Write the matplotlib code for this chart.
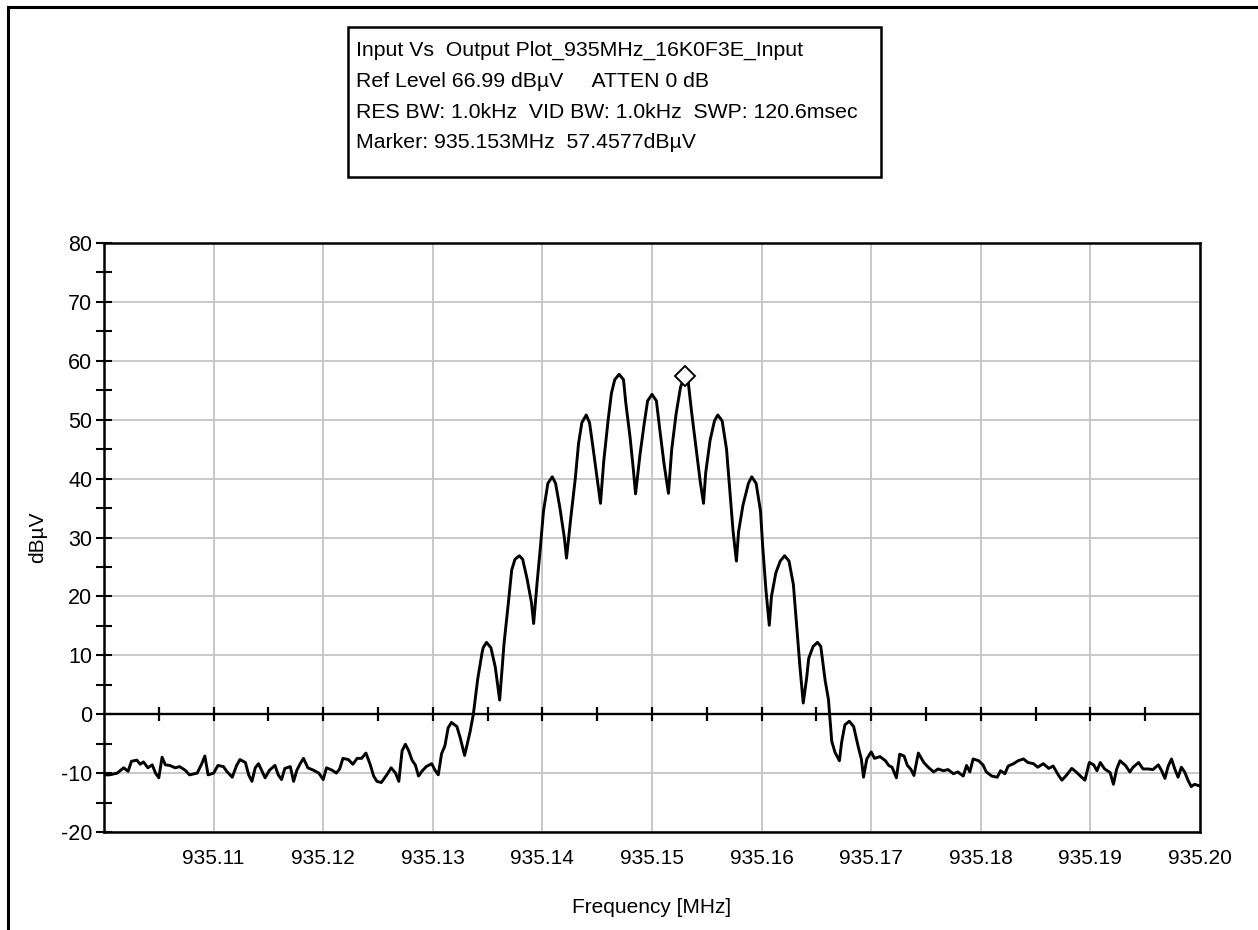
import numpy as np
import matplotlib
matplotlib.use('Agg')
import matplotlib.pyplot as plt
from matplotlib.lines import Line2D
from matplotlib.patches import Rectangle
from matplotlib.ticker import MultipleLocator, FixedLocator, NullFormatter

plt.rcParams['font.family'] = ['Liberation Sans', 'DejaVu Sans']
plt.rcParams['axes.unicode_minus'] = False

# trace, frequency in MHz, level in dBuV
noise_left_freq = [
    935.1000, 935.1005, 935.1012, 935.1018, 935.1022, 935.1025, 935.1030, 935.1033,
    935.1036, 935.1040, 935.1044, 935.1047, 935.1050, 935.1053, 935.1056, 935.1060,
    935.1065, 935.1069, 935.1074, 935.1078, 935.1085, 935.1089, 935.1092, 935.1095,
    935.1100, 935.1104, 935.1109, 935.1112, 935.1117, 935.1121, 935.1124, 935.1129,
    935.1132, 935.1135, 935.1138, 935.1141, 935.1144, 935.1147, 935.1151, 935.1156,
    935.1159, 935.1162, 935.1165, 935.1170, 935.1173, 935.1176, 935.1179, 935.1182,
    935.1186, 935.1191, 935.1196, 935.1200, 935.1203, 935.1208, 935.1212, 935.1215,
    935.1218, 935.1223, 935.1227, 935.1231, 935.1235, 935.1239, 935.1243, 935.1246,
    935.1249, 935.1253, 935.1258, 935.1262, 935.1266, 935.1269, 935.1272, 935.1275,
    935.1278, 935.1281, 935.1284, 935.1287, 935.1290, 935.1294, 935.1299, 935.1302,
    935.1305, 935.1308, 935.1311, 935.1314, 935.1317, 935.1322, 935.1325, 935.1329,
    935.1334,
]
noise_left_dbuv = [
    -10.3, -10.3, -10.0, -9.1, -9.7, -8.0, -7.8, -8.5,
    -8.1, -9.1, -8.6, -10.0, -10.8, -7.3, -8.6, -8.7,
    -9.1, -8.9, -9.5, -10.3, -10.0, -8.5, -7.1, -10.3,
    -10.0, -8.7, -8.9, -9.7, -10.7, -8.7, -7.7, -8.2,
    -10.3, -11.4, -9.1, -8.4, -9.6, -10.8, -9.5, -8.7,
    -10.3, -11.1, -9.2, -8.9, -11.4, -9.5, -8.4, -7.5,
    -9.1, -9.5, -10.0, -11.1, -9.1, -9.5, -10.0, -9.3,
    -7.5, -7.7, -8.5, -7.5, -7.5, -6.6, -8.6, -10.5,
    -11.4, -11.6, -10.3, -9.1, -10.0, -11.4, -6.2, -5.1,
    -6.2, -7.8, -8.6, -10.5, -9.7, -8.9, -8.4, -9.5,
    -10.3, -6.7, -5.4, -2.3, -1.4, -2.1, -4.0, -7.0,
    -3.0,
]

lobes_freq = [
    935.1337, 935.1341, 935.1345, 935.1346, 935.1349, 935.1353, 935.1357, 935.1361,
    935.1365, 935.1369, 935.1372, 935.1375, 935.1379, 935.1382, 935.1386, 935.1390,
    935.1392, 935.1395, 935.1398, 935.1401, 935.1405, 935.1409, 935.1412, 935.1416,
    935.1420, 935.1422, 935.1426, 935.1430, 935.1433, 935.1436, 935.1440, 935.1443,
    935.1446, 935.1450, 935.1453, 935.1456, 935.1460, 935.1463, 935.1466, 935.1470,
    935.1474, 935.1476, 935.1480, 935.1483, 935.1485, 935.1489, 935.1493, 935.1496,
    935.1500, 935.1504, 935.1507, 935.1511, 935.1515, 935.1518, 935.1522, 935.1526,
    935.1530, 935.1533, 935.1536, 935.1540, 935.1544, 935.1547, 935.1549, 935.1553,
    935.1557, 935.1560, 935.1564, 935.1568, 935.1571, 935.1574, 935.1577, 935.1579,
    935.1583, 935.1588, 935.1591, 935.1595, 935.1599, 935.1601, 935.1604, 935.1607,
    935.1609, 935.1613, 935.1617, 935.1621, 935.1625, 935.1629, 935.1632, 935.1635,
    935.1638, 935.1641, 935.1643, 935.1647, 935.1651, 935.1654, 935.1658, 935.1661,
    935.1662, 935.1664, 935.1667, 935.1671,
]
lobes_dbuv = [
    0.0, 6.0, 10.5, 11.3, 12.2, 11.3, 8.0, 2.4,
    12.0, 19.0, 24.5, 26.3, 26.9, 26.3, 23.0, 19.0,
    15.4, 22.0, 28.0, 34.5, 39.2, 40.3, 39.2, 35.0,
    30.0, 26.5, 33.5, 40.0, 46.0, 49.5, 50.8, 49.5,
    45.5, 40.0, 35.8, 43.0, 50.0, 54.5, 56.8, 57.7,
    56.8, 53.0, 47.0, 41.5, 37.4, 44.0, 49.5, 53.2,
    54.3, 53.2, 48.5, 42.5, 37.5, 45.0, 51.0, 55.5,
    57.5, 56.5, 51.5, 45.5, 39.5, 35.8, 41.0, 46.5,
    49.8, 50.8, 49.8, 45.0, 38.0, 31.0, 26.0, 31.0,
    35.5, 39.2, 40.3, 39.2, 34.5, 28.5, 21.0, 15.1,
    20.0, 24.0, 26.0, 26.9, 26.0, 22.0, 15.0, 8.0,
    1.9, 6.0, 9.5, 11.5, 12.2, 11.5, 5.7, 2.5,
    0.2, -4.6, -6.5, -7.9,
]

noise_right_freq = [
    935.1673, 935.1676, 935.1680, 935.1684, 935.1688, 935.1691, 935.1693, 935.1696,
    935.1700, 935.1703, 935.1708, 935.1713, 935.1716, 935.1719, 935.1723, 935.1726,
    935.1730, 935.1733, 935.1736, 935.1739, 935.1743, 935.1748, 935.1752, 935.1757,
    935.1761, 935.1766, 935.1770, 935.1775, 935.1779, 935.1784, 935.1787, 935.1790,
    935.1793, 935.1798, 935.1802, 935.1805, 935.1810, 935.1815, 935.1818, 935.1822,
    935.1825, 935.1830, 935.1834, 935.1839, 935.1843, 935.1848, 935.1852, 935.1857,
    935.1862, 935.1866, 935.1871, 935.1874, 935.1878, 935.1883, 935.1887, 935.1892,
    935.1895, 935.1899, 935.1903, 935.1906, 935.1909, 935.1913, 935.1918, 935.1921,
    935.1924, 935.1927, 935.1932, 935.1936, 935.1939, 935.1944, 935.1948, 935.1953,
    935.1957, 935.1962, 935.1965, 935.1968, 935.1971, 935.1974, 935.1977, 935.1980,
    935.1983, 935.1986, 935.1989, 935.1992, 935.1995, 935.2000,
]
noise_right_dbuv = [
    -4.8, -1.8, -1.2, -2.1, -5.4, -7.6, -10.7, -7.6,
    -6.4, -7.5, -7.2, -7.9, -8.7, -9.0, -10.8, -6.8,
    -7.1, -8.7, -9.3, -10.4, -6.6, -8.2, -9.0, -9.8,
    -9.3, -9.6, -9.4, -10.1, -9.8, -10.5, -8.7, -9.8,
    -7.6, -7.9, -8.6, -9.8, -10.5, -10.7, -9.6, -10.1,
    -8.8, -8.4, -7.9, -7.6, -8.2, -8.4, -9.0, -8.4,
    -9.2, -8.8, -10.4, -11.2, -10.4, -9.2, -9.8, -10.7,
    -11.2, -8.2, -8.6, -9.6, -8.2, -9.3, -9.9, -11.9,
    -9.3, -7.9, -8.7, -9.8, -9.0, -8.2, -9.3, -9.3,
    -9.4, -8.6, -9.6, -10.9, -8.8, -7.6, -9.3, -10.7,
    -9.0, -9.8, -11.2, -12.3, -11.9, -12.2,
]

marker_freq = 935.153
marker_level = 57.4577

x_ticks = [935.11, 935.12, 935.13, 935.14, 935.15, 935.16, 935.17, 935.18, 935.19, 935.20]
x_labels = ['935.11', '935.12', '935.13', '935.14', '935.15',
            '935.16', '935.17', '935.18', '935.19', '935.20']

info_lines = [
    'Input Vs  Output Plot_935MHz_16K0F3E_Input',
    'Ref Level 66.99 dB\u00b5V     ATTEN 0 dB',
    'RES BW: 1.0kHz  VID BW: 1.0kHz  SWP: 120.6msec',
    'Marker: 935.153MHz  57.4577dB\u00b5V',
]

freq = np.concatenate([noise_left_freq, lobes_freq, noise_right_freq])
level = np.concatenate([noise_left_dbuv, lobes_dbuv, noise_right_dbuv])

fig = plt.figure(figsize=(12.58, 9.30), dpi=100)
ax = fig.add_axes([104 / 1258, 1 - 832 / 930, 1096 / 1258, 589 / 930])

ax.plot(freq, level, color='black', lw=2.1, zorder=3)
ax.plot([marker_freq], [marker_level], marker='D', ms=10, mfc='white',
        mec='black', mew=1.4, zorder=4)

ax.set_xlim(935.10, 935.20)
ax.set_ylim(-20, 80)

ax.set_xticks(x_ticks)
ax.set_xticklabels(x_labels)
ax.tick_params(axis='x', length=0, pad=12, labelsize=15)
ax.yaxis.set_major_locator(MultipleLocator(10))
ax.yaxis.set_minor_locator(MultipleLocator(5))
ax.tick_params(axis='y', which='both', direction='inout', length=11, width=1.5,
               labelsize=15.5, pad=3)

ax.grid(True, color='#c4c4c4', lw=1.3, zorder=0)
for s in ax.spines.values():
    s.set_linewidth(1.8)

# zero line with its own ticks, drawn above the grid
zero_ax = ax.secondary_xaxis(0.2)
zero_ax.set_zorder(2.5)
zero_ax.xaxis.set_major_locator(FixedLocator(np.arange(935.105, 935.1999, 0.005)))
zero_ax.xaxis.set_major_formatter(NullFormatter())
zero_ax.tick_params(direction='inout', length=10, width=1.6)
zero_ax.spines['bottom'].set_linewidth(1.7)

ax.set_xlabel('Frequency [MHz]', fontsize=15, labelpad=22)
ax.set_ylabel('dB\u00b5V', fontsize=15, labelpad=10)

# info box
fig.add_artist(Rectangle((348 / 1258, 1 - 177 / 930), 533 / 1258, 150 / 930,
                         transform=fig.transFigure, fill=False, ec='black', lw=1.8))
for i, line in enumerate(info_lines):
    fig.text(356 / 1258, 1 - (50 + 31 * i) / 930, line, fontsize=15.3,
             va='center', ha='left')

# outer frame
fig.add_artist(Line2D([8 / 1258, 1], [1 - 7 / 930, 1 - 7 / 930],
                      transform=fig.transFigure, color='black', lw=2.2))
fig.add_artist(Line2D([8 / 1258, 8 / 1258], [0, 1 - 7 / 930],
                      transform=fig.transFigure, color='black', lw=2.2))

fig.savefig('out.png', dpi=100)
